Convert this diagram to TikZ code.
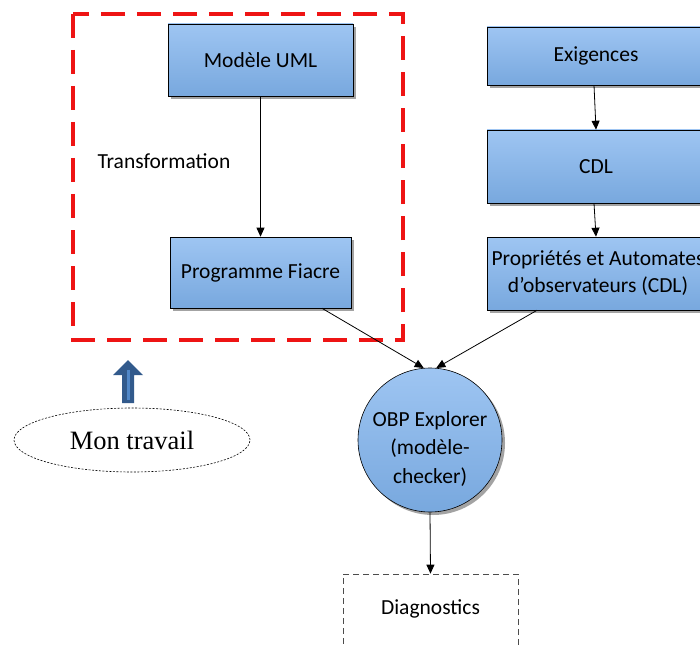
\documentclass[tikz,border=0pt]{standalone}
\usepackage{fontspec}
\setmainfont{Carlito}
\newfontfamily\timesf{Liberation Serif}
\usetikzlibrary{arrows.meta,shadows,shapes.geometric}
\definecolor{boxtop}{RGB}{158,197,242}
\definecolor{boxbot}{RGB}{120,168,222}
\definecolor{redframe}{RGB}{238,20,20}
\definecolor{arrowblue}{RGB}{50,90,140}
\definecolor{arrowlight}{RGB}{80,135,200}
\tikzset{
  blockbox/.style={draw=black, line width=0.6pt, top color=boxtop, bottom color=boxbot,
    drop shadow={shadow xshift=3pt, shadow yshift=-3pt, fill=black!60, opacity=0.6},
    align=center, inner sep=0pt},
  conn/.style={draw=black, line width=0.8pt, -{Triangle[length=9pt,width=8pt]}},
  plain/.style={font=\fontsize{21.5}{27}\selectfont, align=center}
}
\begin{document}
\begin{tikzpicture}[x=1pt,y=-1pt, font=\fontsize{21.5}{27}\selectfont]
\useasboundingbox (0,0) rectangle (700,644);
\clip (0,0) rectangle (700,644);
\fill[white] (0,0) rectangle (700,644);

% red dashed frame
\draw[redframe, line width=4pt, dash pattern=on 24pt off 12pt] (73,14) rectangle (403,340);

% left boxes
\node[blockbox, minimum width=185pt, minimum height=72pt] (uml) at (260.5,60) {Modèle UML};
\node[blockbox, minimum width=181pt, minimum height=71pt] (fiacre) at (260.5,272.5) {Programme Fiacre};
\node[plain, anchor=west] (transfo) at (94,161) {Transformation};

% right boxes
\node[blockbox, minimum width=218pt, minimum height=58pt] (exig) at (596,56) {Exigences};
\node[blockbox, minimum width=218pt, minimum height=73pt] (cdl) at (596,166.5) {CDL};
\node[blockbox, minimum width=222pt, minimum height=73pt] (prop) at (598,273.5) {Propriétés et Automates\\d’observateurs (CDL)};

% circle
\node[blockbox, circle, minimum size=144pt] (obp) at (430,440) {};
\node[font=\fontsize{21.5}{28.5}\selectfont, align=center] (obptext) at (430,449) {OBP Explorer\\(modèle-\\checker)};

% diagnostics
\node[draw=black!70, line width=0.7pt, dash pattern=on 6pt off 4pt, minimum width=175pt, minimum height=76pt, inner sep=0pt] (diag) at (430.5,612) {};
\node[plain] (diagtext) at (430.5,609) {Diagnostics};

% connectors
\draw[conn] (uml.south) -- (fiacre.north);
\draw[conn] ([xshift=-2pt]exig.south) -- (cdl.north);
\draw[conn] ([xshift=-2pt]cdl.south) -- ([xshift=-2pt]prop.north);
\draw[conn] ([xshift=61.5pt]fiacre.south) -- (obp.95);
\draw[conn] ([xshift=-61pt]prop.south) -- (obp.85);
\draw[conn] (obp.south) -- (diag.north);

% blue block arrow
\fill[arrowblue] (122,403) -- (122,375) -- (113,375) -- (128,360) -- (143,375) -- (134,375) -- (134,403) -- cycle;
\fill[arrowlight] (126.5,400) rectangle (129.5,370);

% ellipse
\node[draw=black, line width=0.6pt, dash pattern=on 2pt off 1.5pt, ellipse, minimum width=236pt, minimum height=64pt, inner sep=0pt, font=\timesf\fontsize{26.5}{30}\selectfont] (travail) at (132,440) {Mon travail};
\end{tikzpicture}
\end{document}
